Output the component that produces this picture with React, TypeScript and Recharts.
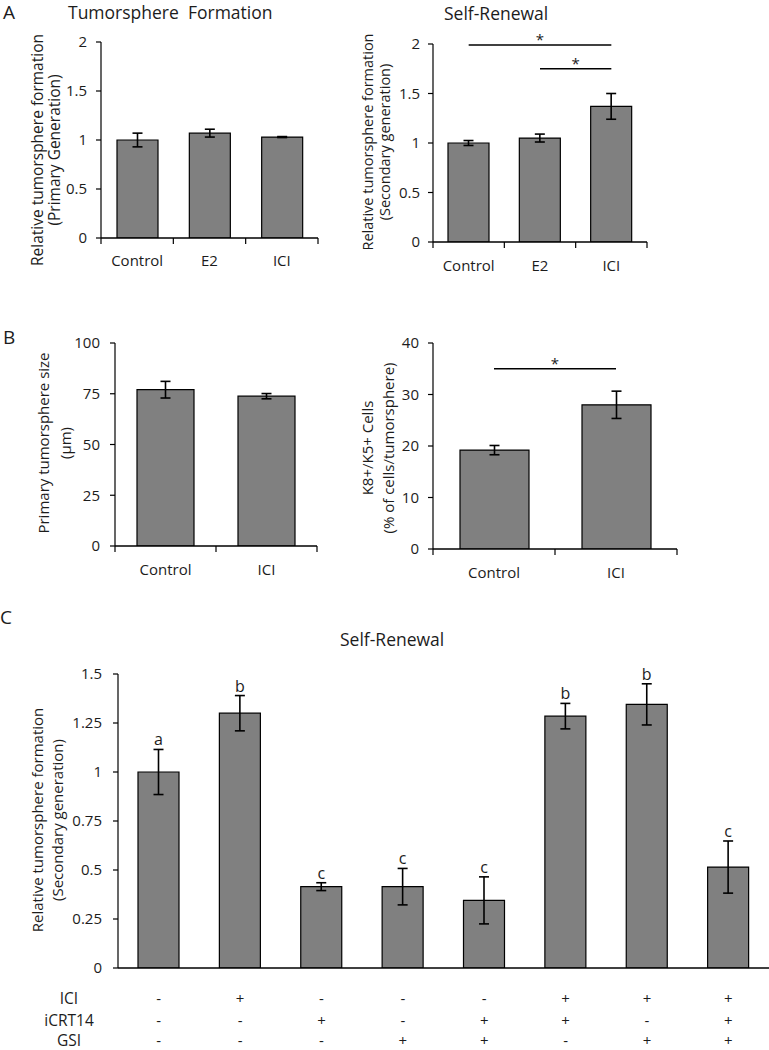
import React from 'react';
import { BarChart, Bar, XAxis, YAxis, ErrorBar, ReferenceLine, LabelList } from 'recharts';

const FONT = '"Open Sans", sans-serif';
const TXT = '#1c1c1c';
const BAR_FILL = '#808080';

// ---------- Panel A ----------
const aCategories = ['Control', 'E2', 'ICI'];
const aPrimaryMeans = [1.0, 1.07, 1.03];
const aPrimaryErrs = [0.07, 0.04, 0.005];
const aSecondaryMeans = [1.0, 1.05, 1.37];
const aSecondaryErrs = [0.025, 0.04, 0.13];
const aTicks = [0, 0.5, 1, 1.5, 2];
const aSigLines = [
  { from: 'Control', to: 'ICI', y: 1.99, mark: '*' },
  { from: 'E2', to: 'ICI', y: 1.75, mark: '*' },
];

// ---------- Panel B ----------
const bCategories = ['Control', 'ICI'];
const bSizeMeans = [77, 73.8];
const bSizeErrs = [4.1, 1.3];
const bSizeTicks = [0, 25, 50, 75, 100];
const bK8Means = [19.2, 28];
const bK8Errs = [0.9, 2.65];
const bK8Ticks = [0, 10, 20, 30, 40];
const bSigLines = [{ from: 'Control', to: 'ICI', y: 35, mark: '*' }];

// ---------- Panel C ----------
const cGroups = ['1', '2', '3', '4', '5', '6', '7', '8'];
const cRowNames = ['ICI', 'iCRT14', 'GSI'];
const cIci = ['-', '+', '-', '-', '-', '+', '+', '+'];
const cIcrt14 = ['-', '-', '+', '-', '+', '+', '-', '+'];
const cGsi = ['-', '-', '-', '+', '+', '-', '+', '+'];
const cMeans = [1.0, 1.3, 0.415, 0.415, 0.345, 1.285, 1.345, 0.515];
const cErrs = [0.115, 0.09, 0.02, 0.093, 0.12, 0.065, 0.105, 0.133];
const cLetters = ['a', 'b', 'c', 'c', 'c', 'b', 'b', 'c'];
const cTicks = [0, 0.25, 0.5, 0.75, 1, 1.25, 1.5];

const build = (cats: string[], means: number[], errs: number[]) =>
  cats.map((name, i) => ({ name, value: means[i], err: errs[i] }));

const aPrimaryData = build(aCategories, aPrimaryMeans, aPrimaryErrs);
const aSecondaryData = build(aCategories, aSecondaryMeans, aSecondaryErrs);
const bSizeData = build(bCategories, bSizeMeans, bSizeErrs);
const bK8Data = build(bCategories, bK8Means, bK8Errs);
const cData = cGroups.map((name, i) => ({
  name,
  value: cMeans[i],
  err: cErrs[i],
  letter: cLetters[i],
  ici: cIci[i],
  icrt: cIcrt14[i],
  gsi: cGsi[i],
}));

const Y_W = 60;
const ROW_OFFS = [30, 52, 72];

const CatTick = (props: any) => {
  const { x, y, payload, index, visibleTicksCount, bw, labelDy } = props;
  const n = visibleTicksCount;
  return (
    <g>
      <line x1={x - bw / 2} y1={y} x2={x - bw / 2} y2={y + 6} stroke="#000" strokeWidth={1.2} />
      {index === n - 1 && (
        <line x1={x + bw / 2} y1={y} x2={x + bw / 2} y2={y + 6} stroke="#000" strokeWidth={1.2} />
      )}
      <text
        x={x}
        y={y + labelDy}
        textAnchor="middle"
        dominantBaseline="central"
        fill={TXT}
        fontSize={15}
        fontFamily={FONT}
      >
        {payload.value}
      </text>
    </g>
  );
};

const SignTick = (props: any) => {
  const { x, y, index } = props;
  const rows = [cIci[index], cIcrt14[index], cGsi[index]];
  return (
    <g>
      {rows.map((s, i) => (
        <text
          key={i}
          x={x}
          y={y + ROW_OFFS[i]}
          textAnchor="middle"
          dominantBaseline="central"
          fill={TXT}
          fontSize={15}
          fontFamily={FONT}
        >
          {s}
        </text>
      ))}
    </g>
  );
};

const LetterLabel = (props: any) => {
  const vb = props.viewBox && props.viewBox.width !== undefined ? props.viewBox : props;
  const { x, y, width, height } = vb;
  const idx = props.index;
  const value = cMeans[idx];
  const err = cErrs[idx];
  const h = Math.abs(height);
  const top = Math.min(y, y + height);
  const errTop = top - (err * h) / value;
  return (
    <text
      x={x + width / 2}
      y={errTop - 4}
      textAnchor="middle"
      fill={TXT}
      fontSize={16}
      fontFamily={FONT}
    >
      {cLetters[idx]}
    </text>
  );
};

type SimpleProps = {
  left: number;
  top: number;
  width: number;
  height: number;
  margin: { top: number; right: number; bottom: number; left: number };
  data: any[];
  domain: [number, number];
  ticks: number[];
  barSize: number;
  tickMargin: number;
  labelDy: number;
  sig?: { from: string; to: string; y: number; mark: string }[];
};

const SimplePanel = (p: SimpleProps) => {
  const plotW = p.width - p.margin.left - p.margin.right - Y_W;
  const bw = plotW / p.data.length;
  return (
    <div style={{ position: 'absolute', left: p.left, top: p.top }}>
      <BarChart width={p.width} height={p.height} data={p.data} margin={p.margin}>
        <XAxis
          dataKey="name"
          tickLine={false}
          axisLine={{ stroke: '#000', strokeWidth: 1.3 }}
          tickSize={0}
          tickMargin={0}
          interval={0}
          height={30}
          tick={<CatTick bw={bw} labelDy={p.labelDy} />}
        />
        <YAxis
          domain={p.domain}
          ticks={p.ticks}
          interval={0}
          width={Y_W}
          tickSize={5}
          tickMargin={p.tickMargin}
          axisLine={{ stroke: '#000', strokeWidth: 1.2 }}
          tickLine={{ stroke: '#000', strokeWidth: 1.2 }}
          tick={{ fill: TXT, fontSize: 15, fontFamily: FONT }}
          allowDataOverflow
        />
        <Bar
          dataKey="value"
          fill={BAR_FILL}
          stroke="#000"
          strokeWidth={1.2}
          barSize={p.barSize}
          isAnimationActive={false}
        >
          <ErrorBar dataKey="err" width={5} stroke="#000" strokeWidth={1.6} isAnimationActive={false} />
        </Bar>
        {(p.sig || []).map((s, i) => (
          <ReferenceLine
            key={i}
            segment={[
              { x: s.from, y: s.y },
              { x: s.to, y: s.y },
            ]}
            stroke="#000"
            strokeWidth={1.3}
            label={{ value: s.mark, position: 'top', offset: 0, fill: TXT, fontSize: 15, fontFamily: FONT }}
          />
        ))}
      </BarChart>
    </div>
  );
};

const RotLabel = ({ cx, cy, lines, size }: { cx: number[]; cy: number; lines: string[]; size: number }) => (
  <g>
    {lines.map((l, i) => (
      <text
        key={i}
        transform={`translate(${cx[i]},${cy}) rotate(-90)`}
        textAnchor="middle"
        dominantBaseline="central"
        fill={TXT}
        fontSize={size}
        fontFamily={FONT}
      >
        {l}
      </text>
    ))}
  </g>
);

export default function App() {
  const cMargin = { top: 74, right: 0, bottom: 0, left: 58 };
  return (
    <div
      style={{
        position: 'absolute',
        left: 0,
        top: 0,
        width: 769,
        height: 1050,
        background: '#fff',
        overflow: 'hidden',
        fontFamily: FONT,
      }}
    >
      <SimplePanel
        left={0}
        top={0}
        width={340}
        height={290}
        margin={{ top: 42, right: 22, bottom: 22, left: 41 }}
        data={aPrimaryData}
        domain={[0, 2]}
        ticks={aTicks}
        barSize={41}
        tickMargin={9}
        labelDy={22}
      />
      <SimplePanel
        left={340}
        top={0}
        width={340}
        height={290}
        margin={{ top: 44, right: 33, bottom: 18, left: 33 }}
        data={aSecondaryData}
        domain={[0, 2]}
        ticks={aTicks}
        barSize={41}
        tickMargin={8}
        labelDy={23}
        sig={aSigLines}
      />
      <SimplePanel
        left={0}
        top={290}
        width={340}
        height={310}
        margin={{ top: 53, right: 23, bottom: 24, left: 55 }}
        data={bSizeData}
        domain={[0, 100]}
        ticks={bSizeTicks}
        barSize={57}
        tickMargin={10}
        labelDy={23}
      />
      <SimplePanel
        left={340}
        top={290}
        width={400}
        height={310}
        margin={{ top: 53, right: 63, bottom: 21, left: 33 }}
        data={bK8Data}
        domain={[0, 40]}
        ticks={bK8Ticks}
        barSize={69}
        tickMargin={9}
        labelDy={23}
        sig={bSigLines}
      />
      <div style={{ position: 'absolute', left: 0, top: 600 }}>
        <BarChart width={769} height={450} data={cData} margin={cMargin}>
          <XAxis
            dataKey="name"
            tickLine={false}
            axisLine={{ stroke: '#000', strokeWidth: 1.3 }}
            tickSize={0}
            tickMargin={0}
            interval={0}
            height={82}
            tick={<SignTick />}
          />
          <YAxis
            domain={[0, 1.5]}
            ticks={cTicks}
            interval={0}
            width={Y_W}
            tickSize={5}
            tickMargin={11}
            axisLine={{ stroke: '#000', strokeWidth: 1.2 }}
            tickLine={{ stroke: '#000', strokeWidth: 1.2 }}
            tick={{ fill: TXT, fontSize: 15, fontFamily: FONT }}
            allowDataOverflow
          />
          <Bar
            dataKey="value"
            fill={BAR_FILL}
            stroke="#000"
            strokeWidth={1.2}
            barSize={41}
            isAnimationActive={false}
          >
            <ErrorBar dataKey="err" width={5} stroke="#000" strokeWidth={1.6} isAnimationActive={false} />
            <LabelList dataKey="letter" content={<LetterLabel />} />
          </Bar>
        </BarChart>
      </div>
      <svg
        width={769}
        height={1050}
        style={{ position: 'absolute', left: 0, top: 0, pointerEvents: 'none' }}
      >
        <text x={3} y={12} dominantBaseline="central" fill={TXT} fontSize={19} fontFamily={FONT}>A</text>
        <text x={3} y={337} dominantBaseline="central" fill={TXT} fontSize={19} fontFamily={FONT}>B</text>
        <text x={0} y={617} dominantBaseline="central" fill={TXT} fontSize={19} fontFamily={FONT}>C</text>
        <text x={68} y={12} dominantBaseline="central" fill={TXT} fontSize={17.5} fontFamily={FONT} xmlSpace="preserve">
          Tumorsphere  Formation
        </text>
        <text x={444} y={13} dominantBaseline="central" fill={TXT} fontSize={17.5} fontFamily={FONT}>
          Self-Renewal
        </text>
        <text x={340} y={639} dominantBaseline="central" fill={TXT} fontSize={17.5} fontFamily={FONT}>
          Self-Renewal
        </text>
        <RotLabel cx={[37, 54]} cy={150} size={15.5} lines={['Relative tumorsphere formation', '(Primary Generation)']} />
        <RotLabel cx={[367, 384]} cy={142} size={14.5} lines={['Relative tumorsphere formation', '(Secondary generation)']} />
        <RotLabel cx={[43, 65]} cy={443} size={15} lines={['Primary tumorsphere size', '(µm)']} />
        <RotLabel cx={[367, 388]} cy={448} size={15} lines={['K8+/K5+ Cells', '(% of cells/tumorsphere)']} />
        <RotLabel cx={[37, 57]} cy={820} size={15} lines={['Relative tumorsphere formation', '(Secondary generation)']} />
        {cRowNames.map((r, i) => (
          <text
            key={r}
            x={69}
            y={968 + ROW_OFFS[i]}
            textAnchor="middle"
            dominantBaseline="central"
            fill={TXT}
            fontSize={15.5}
            fontFamily={FONT}
          >
            {r}
          </text>
        ))}
      </svg>
    </div>
  );
}
